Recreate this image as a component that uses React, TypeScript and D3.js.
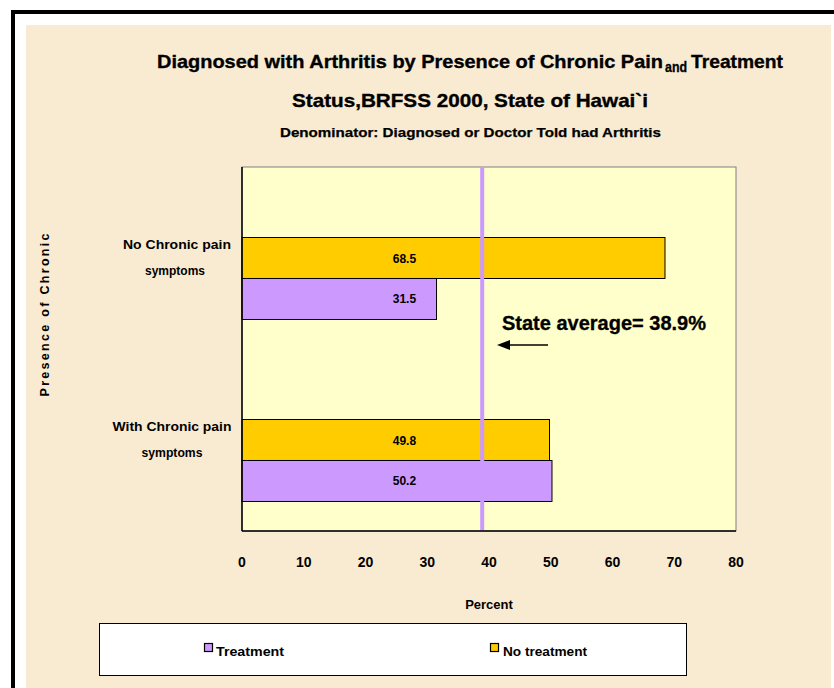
import React from "react";
import * as d3 from "d3";

const categories = ["No Chronic pain symptoms", "With Chronic pain symptoms"];
const categoryLines = [["No Chronic pain", "symptoms"], ["With Chronic pain", "symptoms"]];
const noTreatment = [68.5, 49.8];
const treatment = [31.5, 50.2];
const xTicks = [0, 10, 20, 30, 40, 50, 60, 70, 80];
const stateAverage = 38.9;
const labelAt = 26.3;

const W = 834;
const H = 688;
const FONT = "'Liberation Sans', Arial, sans-serif";
const ORANGE = "#FFCC00";
const PURPLE = "#CC99FF";
const catLineWidths = [[108, 60], [119, 61]];
const catLineX = [[177, 175], [172, 172]];

export default function App() {
  const x = d3.scaleLinear().domain([0, 80]).range([242, 736]);
  const y = d3.scaleBand<string>().domain(categories).range([167, 531]).padding(0);
  const inner = d3
    .scaleBand<string>()
    .domain(["blank", "No treatment", "Treatment"])
    .range([0, y.bandwidth()])
    .paddingInner(0)
    .paddingOuter(0.72);

  const series = [
    { key: "No treatment", values: noTreatment, color: ORANGE },
    { key: "Treatment", values: treatment, color: PURPLE },
  ];

  const [x0, x1] = x.range();
  const [y0, y1] = y.range();
  const heavy = { stroke: "#000", strokeWidth: 0.35 };

  return (
    <svg
      width={W}
      height={H}
      style={{ position: "absolute", left: 0, top: 0, display: "block" }}
      fontFamily={FONT}
    >
      <rect x={0} y={0} width={W} height={H} fill="#ffffff" />
      <rect x={26} y={25} width={805} height={H - 25} fill="#F9EBD2" />
      <rect x={11} y={10} width={W - 11} height={4} fill="#000" />
      <rect x={11} y={10} width={4} height={H - 10} fill="#000" />

      {/* Titles */}
      <g {...heavy}>
        <text x={157} y={68} fontSize={19} fontWeight="bold" textLength={506} lengthAdjust="spacingAndGlyphs">
          Diagnosed with Arthritis by Presence of Chronic Pain
        </text>
        <text x={665} y={72} fontSize={15} fontWeight="bold" textLength={22} lengthAdjust="spacingAndGlyphs">
          and
        </text>
        <text x={691} y={68} fontSize={19} fontWeight="bold" textLength={92} lengthAdjust="spacingAndGlyphs">
          Treatment
        </text>
        <text x={292} y={107} fontSize={19} fontWeight="bold" textLength={356} lengthAdjust="spacingAndGlyphs">
          Status,BRFSS 2000, State of Hawai`i
        </text>
      </g>
      <text x={280} y={137} fontSize={13} fontWeight="bold" textLength={381} lengthAdjust="spacingAndGlyphs" stroke="#000" strokeWidth={0.25}>
        Denominator: Diagnosed or Doctor Told had Arthritis
      </text>

      {/* Plot area */}
      <rect x={x0} y={y0} width={x1 - x0} height={y1 - y0} fill="#FFFFCC" stroke="#808080" strokeWidth={1} />

      {/* Bars */}
      {series.map((s) =>
        categories.map((c, i) => {
          const by = (y(c) as number) + (inner(s.key) as number);
          return (
            <g key={s.key + c}>
              <rect
                x={x(0)}
                y={by}
                width={x(s.values[i]) - x(0)}
                height={inner.bandwidth()}
                fill={s.color}
                stroke="#000"
                strokeWidth={1}
              />
              <text
                x={x(labelAt)}
                y={by + inner.bandwidth() / 2 + 4.5}
                fontSize={12}
                fontWeight="bold"
                textAnchor="middle"
              >
                {s.values[i].toFixed(1)}
              </text>
            </g>
          );
        })
      )}

      {/* State average line */}
      <line x1={x(stateAverage)} x2={x(stateAverage)} y1={y0} y2={y1} stroke={PURPLE} strokeWidth={4} />

      {/* Axes */}
      <line x1={x0} x2={x0} y1={y0} y2={y1} stroke="#000" strokeWidth={1.5} />
      <line x1={x0} x2={x1} y1={y1} y2={y1} stroke="#000" strokeWidth={1.5} />

      {xTicks.map((t) => (
        <text key={t} x={x(t)} y={567} fontSize={14} fontWeight="bold" textAnchor="middle">
          {t}
        </text>
      ))}
      <text x={489} y={609} fontSize={13} fontWeight="bold" textAnchor="middle">
        Percent
      </text>

      {categories.map((c, i) => {
        const cy = (y(c) as number) + y.bandwidth() / 2;
        return (
          <g key={c}>
            <text
              x={catLineX[i][0]}
              y={cy - 9}
              fontSize={13}
              fontWeight="bold"
              textAnchor="middle"
              textLength={catLineWidths[i][0]}
              lengthAdjust="spacingAndGlyphs"
            >
              {categoryLines[i][0]}
            </text>
            <text
              x={catLineX[i][1]}
              y={cy + 17}
              fontSize={13}
              fontWeight="bold"
              textAnchor="middle"
              textLength={catLineWidths[i][1]}
              lengthAdjust="spacingAndGlyphs"
            >
              {categoryLines[i][1]}
            </text>
          </g>
        );
      })}

      <text
        transform="translate(49,315) rotate(-90)"
        fontSize={12.5}
        fontWeight="bold"
        textAnchor="middle"
        textLength={163}
        lengthAdjust="spacing"
      >
        Presence of Chronic
      </text>

      {/* Annotation */}
      <text x={502} y={330} fontSize={20} fontWeight="bold" textLength={204} lengthAdjust="spacingAndGlyphs" stroke="#000" strokeWidth={0.3}>
        State average= 38.9%
      </text>
      <line x1={548} x2={508} y1={345} y2={345} stroke="#000" strokeWidth={1.5} />
      <path d="M497,345 L510,340 L510,350 Z" fill="#000" />

      {/* Legend */}
      <rect x={99.5} y={623.5} width={587} height={52} fill="#fff" stroke="#000" strokeWidth={1} />
      <rect x={204.5} y={643.5} width={8} height={8} fill={PURPLE} stroke="#000" strokeWidth={1.2} />
      <text x={216} y={656} fontSize={13} fontWeight="bold" textLength={68} lengthAdjust="spacingAndGlyphs">
        Treatment
      </text>
      <rect x={490.5} y={643.5} width={8} height={8} fill={ORANGE} stroke="#000" strokeWidth={1.2} />
      <text x={503} y={656} fontSize={13} fontWeight="bold" textLength={84} lengthAdjust="spacingAndGlyphs">
        No treatment
      </text>
    </svg>
  );
}
